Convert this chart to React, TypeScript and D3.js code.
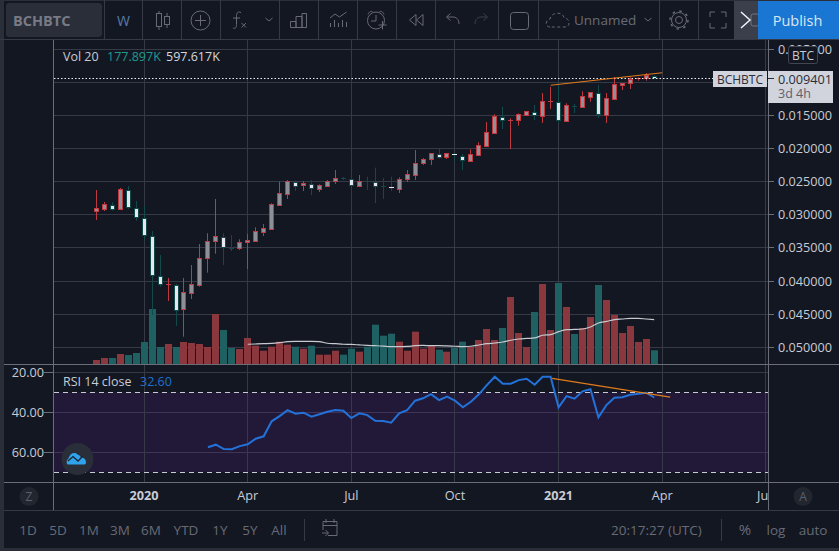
import React from "react";
import * as d3 from "d3";

// prices in thousandths of BTC, weekly bars, chart scale is inverted
const opens = [29.37,29.07,28.47,29.16,26.25,28.96,30.47,33.19,39.23,40.50,40.59,44.26,41.75,40.55,36.56,33.99,33.34,34.93,35.05,34.14,33.90,32.54,32.09,28.47,26.81,25.04,25.54,25.34,26.05,25.60,24.84,24.46,24.59,25.60,24.82,25.04,25.68,25.79,26.05,24.54,23.94,22.21,21.61,20.81,21.31,20.81,21.11,21.82,20.92,19.60,17.59,15.22,15.76,15.72,14.88,14.42,15.03,12.87,12.91,15.78,13.50,13.67,12.16,11.55,14.88,12.46,10.39,10.13,9.44,9.29,8.99];
const closes = [29.01,28.41,29.16,26.05,28.86,30.32,33.04,39.08,40.44,40.45,44.37,41.69,40.49,36.56,33.99,33.19,34.85,34.98,34.14,33.84,32.51,31.99,28.41,26.74,24.93,25.64,25.23,25.94,25.54,24.84,24.48,24.50,25.49,24.84,24.86,25.64,25.72,25.94,24.54,23.88,22.21,21.61,20.70,21.26,20.70,20.96,21.72,20.86,19.50,17.53,15.07,15.68,15.72,14.82,14.36,14.92,12.85,12.83,15.68,13.46,13.54,12.10,11.49,14.77,12.40,10.29,10.13,9.44,9.29,8.88,9.401];
const lows = [26.25,28.06,28.10,25.94,25.64,27.91,28.66,32.44,36.06,39.53,40.44,39.53,37.57,34.40,32.78,27.60,32.78,33.04,33.69,32.89,31.88,31.38,28.25,25.00,24.74,24.84,24.89,24.74,25.39,24.74,23.23,24.28,24.13,23.98,24.24,22.88,24.44,24.24,24.33,23.23,20.21,21.41,20.66,20.01,20.66,20.66,20.81,20.10,19.04,15.98,14.82,13.67,15.42,14.67,14.32,13.41,11.60,10.69,10.09,13.15,13.26,11.34,11.45,10.39,11.60,9.18,10.13,9.23,9.23,8.58,8.93];
const highs = [30.78,29.42,29.37,29.27,29.07,30.88,33.90,45.12,40.85,43.01,46.78,48.40,42.71,40.85,38.73,35.87,37.57,35.46,35.31,38.18,34.05,33.19,32.14,28.51,27.60,26.40,26.40,27.00,26.55,25.64,25.34,24.74,26.35,25.64,26.25,28.21,27.60,26.40,26.70,25.04,24.74,22.47,22.47,21.52,21.57,21.97,23.23,21.87,21.07,19.71,17.69,17.04,20.06,16.54,15.03,15.68,16.13,14.00,16.13,15.98,14.62,13.87,12.91,15.37,16.13,12.50,11.15,11.00,9.74,9.74,9.43];
// volume in thousands
const volumes = [52,78,78,130,117,143,286,715,221,260,221,286,273,260,221,650,442,208,195,338,238,173,225,290,251,225,199,238,121,121,173,121,199,160,225,511,368,394,290,173,420,199,238,186,160,212,290,221,312,455,312,468,871,403,221,676,1040,442,1053,741,390,468,611,1027,832,637,403,494,286,325,178];
const volMaStart = 19;
const volMa = [257,260,264,268,277,290,294,294,294,290,270,264,257,254,248,242,238,233,225,225,229,238,242,238,238,235,231,225,231,247,264,273,286,309,325,332,339,374,381,420,446,449,455,481,533,554,576,585,593,593,585,576];
const rsiStart = 14;
const rsi = [57.5,56.2,58.4,58.5,56.9,56,53.2,52,44.5,41.9,38.9,40.7,40.2,42.2,41,39.7,38.9,39.2,42.9,40.5,41.4,44.2,44.4,45.2,40.5,38.9,34.2,33,30.9,33.9,32.2,34.2,37.5,34.7,31,26.4,22.2,25.7,25.7,23.9,23.2,26.2,22.2,22.2,37.5,31.9,33.2,29.5,28.5,42.5,36.4,32.7,32.5,31.2,30.7,30.2,32.6];
const priceTicks = [5,10,15,20,25,30,35,40,45,50];
const rsiTicks = [20,40,60];
const rsiBands = [30,70];
const timeTicks = [
  { bar: 6, label: "2020", bold: true },
  { bar: 19, label: "Apr", bold: false },
  { bar: 32, label: "Jul", bold: false },
  { bar: 45, label: "Oct", bold: false },
  { bar: 58, label: "2021", bold: true },
  { bar: 71, label: "Apr", bold: false },
];
const priceTrend = [{ bar: 57, v: 10.43 }, { bar: 71, v: 8.54 }];
const rsiTrend = [{ bar: 57.2, v: 23 }, { bar: 72, v: 32.4 }];
const ranges = [["1D", 28], ["5D", 58], ["1M", 89], ["3M", 120], ["6M", 151], ["YTD", 186], ["1Y", 220], ["5Y", 250], ["All", 279]] as const;
const toolbarSeps = [104.5, 142.5, 181.5, 220.5, 279.5, 318.5, 357.5, 396.5, 435.5, 498.5, 538.5, 659.5, 698.5];

const BG = "#131722";
const GRID = "#363a47";
const AXIS = "#6b6e76";
const ICON = "#686b75";
const FONT = "'Open Sans', sans-serif";
const RED = "#bf3a40";
const TEAL = "#124a4c";

const x = d3.scaleLinear().domain([0, 84]).range([96.3, 765.8]);
const yP = d3.scaleLinear().domain([5, 50]).range([49.3, 347.3]);
const yV = d3.scaleLinear().domain([0, 1053]).range([364, 283]);
const yR = d3.scaleLinear().domain([20, 60]).range([372.3, 452.3]);
const crisp = (v: number) => Math.floor(v) + 0.5;
const label = (v: number) => (v / 1000).toFixed(6);

const maLine = d3.line<number>().x((_, i) => x(i + volMaStart)).y((d) => yV(d)).curve(d3.curveMonotoneX);
const rsiLine = d3.line<number>().x((_, i) => x(i + rsiStart)).y((d) => yR(d));

function Toolbar() {
  const s = { fill: "none", stroke: ICON, strokeWidth: 1 };
  return (
    <g>
      <rect x={6} y={3} width={96} height={34} rx={3} fill="#2a2e39" />
      <text x={13} y={25.5} fontSize={14.5} fontWeight={700} fill="#787b86" fontFamily={FONT}>BCHBTC</text>
      {toolbarSeps.map((v) => <line key={v} x1={v} x2={v} y1={0} y2={39} stroke={GRID} />)}
      <text x={123.5} y={25.5} fontSize={14} textAnchor="middle" fill="#5a7ba8" fontFamily={FONT}>W</text>
      <g {...s}>
        <rect x={156.5} y={13.5} width={5} height={13} /><path d="M159 11v2.5M159 26.5V30" />
        <rect x={164.5} y={16.5} width={5} height={8} /><path d="M167 13v3.5M167 24.5V28" />
        <circle cx={200.5} cy={20.5} r={9.5} /><path d="M200.5 15v11M195 20.5h11" />
        <path d="M241 12.5c-4-1.500-4.500 1-4.500 4v8c0 3-1 4.500-3.500 3.500M233 18h7" />
        <path d="M241.500 23l4.500 4.500M246 23l-4.500 4.500" />
        <path d="M265.500 18l3.500 3 3.500-3" />
        <path d="M290.500 21.500h5.500v6h-5.500zM296 16.500h6v11h-6zM302 13.500h4.500v14H302z" />
        <path d="M330 18l5-4 4.500 3 7-5M330.500 23v4M334.500 20v7M338.500 23v4M342.500 20v7M346.500 22v5" />
        <circle cx={376} cy={20.500} r={8.500} /><path d="M376 15v6h-5M368 14.500c1-3 3-3.500 4.500-3M384 14.500c-1-3-3-3.500-4.500-3M378.500 25h8M382.500 21v8.500" />
        <path d="M416 14.500l-6.500 5.500 6.500 5.500zM423 14.500l-6.500 5.500 6.500 5.500z" />
        <path d="M459 24c0-5-3-7-6-7h-6M450.500 13.500l-4 3.500 4 3.500" />
        <rect x={510.500} y={12.500} width={18} height={17} rx={3} />
        <path d="M550 27c-5 0-5-7 0-8 1-7 13-8 14-1 6 0 7 9 1 9z" strokeDasharray="3 2.500" />
        <path d="M644.500 18l3.500 3 3.500-3" />
        <circle cx={679} cy={20} r={3.500} /><circle cx={679} cy={20} r={7.500} />
        <circle cx={679} cy={20} r={9} strokeDasharray="2.500 4.570" strokeWidth={1.500} />
        <path d="M710 17v-5h5M726 17v-5h-5M710 23v5h5M726 23v5h-5" />
      </g>
      <path d="M488 24c0-5 3-7 6-7h6M496.500 13.500l4 3.500-4 3.500" transform="translate(-13 0)" fill="none" stroke="#3d404b" strokeWidth={1} />
      <text x={574} y={25} fontSize={13.500} fill={ICON} fontFamily={FONT}>Unnamed</text>
      <rect x={734} y={1} width={25} height={38} fill="#3b3f4b" />
      <rect x={751} y={14} width={8} height={12} rx={2} fill="none" stroke="#70747f" />
      <path d="M741 12l9 8-9 8" fill="none" stroke="#f0f3fa" strokeWidth={1.500} />
      <rect x={758} y={1} width={81} height={38} fill="#1976d2" />
      <text x={797.500} y={26} fontSize={14.500} textAnchor="middle" fill="#dbe6f3" fontFamily={FONT}>Publish</text>
    </g>
  );
}

function Footer() {
  return (
    <g fontFamily={FONT} fill={ICON} fontSize={13.500}>
      {ranges.map(([t, cx]) => <text key={t} x={cx} y={535} textAnchor="middle">{t}</text>)}
      <line x1={304.500} x2={304.500} y1={519} y2={541} stroke={GRID} />
      <path d="M323 530v-8.500h14v14h-9M326 519v4M334 519v4M323 525.500h14M322 533h6M325.500 530l3 3-3 3" fill="none" stroke={ICON} strokeWidth={1} />
      <text x={611} y={535}>20:17:27 (UTC)</text>
      <line x1={721.500} x2={721.500} y1={519} y2={541} stroke={GRID} />
      <text x={745} y={535} textAnchor="middle" fontSize={15}>%</text>
      <text x={776} y={535} textAnchor="middle">log</text>
      <text x={813} y={535} textAnchor="middle">auto</text>
    </g>
  );
}

export default function App() {
  const bars = d3.range(opens.length);
  const volColor = (i: number) => (closes[i] > opens[i] ? "#1f6162" : "#8a383d");
  return (
    <svg width={839} height={551} style={{ position: "fixed", left: 0, top: 0, display: "block" }}>
      <rect width={839} height={551} fill={BG} />
      <rect x={0} y={0} width={4} height={551} fill="#2a2e39" />
      <rect x={0} y={548} width={839} height={3} fill="#2a2e39" />
      <rect x={0} y={0} width={839} height={1} fill="#2a2e39" />
      <Toolbar />
      <line x1={0} x2={839} y1={39.500} y2={39.500} stroke={GRID} />

      {/* RSI band and gridlines */}
      <rect x={54} y={yR(30)} width={714} height={yR(70) - yR(30)} fill="#221939" />
      {priceTicks.map((t) => <line key={t} x1={54} x2={768} y1={crisp(yP(t))} y2={crisp(yP(t))} stroke={GRID} />)}
      {rsiTicks.map((t) => <line key={t} x1={54} x2={768} y1={crisp(yR(t))} y2={crisp(yR(t))} stroke={t === 20 ? GRID : "#3f3458"} />)}
      {[...timeTicks.map((t) => t.bar), 84].map((b) => (
        <line key={b} x1={crisp(x(b))} x2={crisp(x(b))} y1={40} y2={482} stroke={GRID} />
      ))}
      {rsiBands.map((t) => <line key={t} x1={54} x2={768} y1={crisp(yR(t))} y2={crisp(yR(t))} stroke="#c9cbd2" strokeDasharray="5 4" />)}

      {/* volume */}
      {bars.map((i) => (
        <rect key={i} x={Math.floor(x(i)) - 3} y={yV(volumes[i])} width={7} height={364 - yV(volumes[i])} fill={volColor(i)} />
      ))}
      <path d={maLine(volMa) ?? ""} fill="none" stroke="#c8cad0" strokeWidth={1.200} />

      {/* candles */}
      {bars.map((i) => {
        const up = closes[i] > opens[i];
        const cx = crisp(x(i));
        const top = Math.round(yP(Math.min(opens[i], closes[i])));
        const h = Math.max(1, Math.round(yP(Math.max(opens[i], closes[i]))) - top);
        return (
          <g key={i}>
            <line x1={cx} x2={cx} y1={yP(lows[i])} y2={yP(highs[i])} stroke={up ? TEAL : RED} />
            {h <= 1
              ? <rect x={cx - 2.500} y={top} width={5} height={1} fill={up ? (i === 37 || i === 45 ? "#e8ebf0" : TEAL) : RED} />
              : <rect x={cx - 2} y={top + 0.500} width={4} height={h} fill={up ? "#e4e8ee" : "#8f9097"} stroke={up ? TEAL : RED} />}
          </g>
        );
      })}

      {/* price line and trend lines */}
      <line x1={54} x2={768} y1={78.500} y2={78.500} stroke="#eceef2" strokeDasharray="1.500 2" />
      <line x1={x(priceTrend[0].bar)} x2={x(priceTrend[1].bar)} y1={yP(priceTrend[0].v)} y2={yP(priceTrend[1].v)} stroke="#e07b1c" strokeWidth={1.200} />
      <path d={rsiLine(rsi) ?? ""} fill="none" stroke="#2272d9" strokeWidth={2} />
      <line x1={x(rsiTrend[0].bar)} x2={x(rsiTrend[1].bar)} y1={yR(rsiTrend[0].v)} y2={yR(rsiTrend[1].v)} stroke="#e07b1c" strokeWidth={1.200} />

      {/* frame */}
      <line x1={4} x2={839} y1={364.500} y2={364.500} stroke={AXIS} />
      <line x1={4} x2={839} y1={482.500} y2={482.500} stroke={AXIS} />
      <line x1={53.500} x2={53.500} y1={40} y2={510} stroke={AXIS} />
      <line x1={768.500} x2={768.500} y1={40} y2={510} stroke={AXIS} />
      <line x1={4} x2={839} y1={510.500} y2={510.500} stroke={GRID} />

      {/* price axis */}
      <g fontFamily={FONT} fontSize={12.700} fill="#c9ccd4">
        {priceTicks.map((t) => (
          <g key={t}>
            <line x1={769} x2={774} y1={crisp(yP(t))} y2={crisp(yP(t))} stroke={AXIS} />
            <text x={778} y={yP(t) + 4.500}>{label(t)}</text>
          </g>
        ))}
      </g>
      <rect x={788.500} y={46.500} width={29} height={17} rx={2} fill={BG} stroke="#434651" />
      <text x={803} y={59.500} fontSize={12} textAnchor="middle" fill="#c9ccd4" fontFamily={FONT}>BTC</text>
      <rect x={713} y={71} width={54} height={16} fill="#d1d4dc" />
      <text x={740} y={83.500} fontSize={12} textAnchor="middle" fill="#2a2e39" fontFamily={FONT}>BCHBTC</text>
      <rect x={768} y={71} width={65} height={32} fill="#d1d4dc" />
      <line x1={768} x2={774} y1={78.500} y2={78.500} stroke="#2a2e39" />
      <text x={778} y={83.500} fontSize={12.700} fill="#2a2e39" fontFamily={FONT}>{label(closes[closes.length - 1])}</text>
      <text x={778} y={97.500} fontSize={12.500} fill="#5d606b" fontFamily={FONT}>3d 4h</text>

      {/* RSI axis */}
      <g fontFamily={FONT} fontSize={12.700} fill="#c9ccd4">
        {rsiTicks.map((t) => (
          <g key={t}>
            <line x1={44} x2={53} y1={crisp(yR(t))} y2={crisp(yR(t))} stroke={AXIS} />
            <text x={44} y={yR(t) + 4.500} textAnchor="end">{t.toFixed(2)}</text>
          </g>
        ))}
      </g>

      {/* time axis */}
      <g fontFamily={FONT} fontSize={12.700} fill="#c9ccd4" textAnchor="middle">
        {timeTicks.map((t) => (
          <text key={t.label + t.bar} x={x(t.bar)} y={500} fontWeight={t.bold ? 700 : 400}>{t.label}</text>
        ))}
        <text x={757} y={500} textAnchor="start">Ju</text>
      </g>
      <rect x={769} y={483} width={70} height={27} fill={BG} />
      <circle cx={29} cy={496.500} r={9.500} fill="#22262f" />
      <text x={29} y={501} fontSize={12} textAnchor="middle" fill="#5d606b" fontFamily={FONT}>Z</text>
      <circle cx={803} cy={496.500} r={9.500} fill="#22262f" />
      <text x={803} y={501} fontSize={12} textAnchor="middle" fill="#5d606b" fontFamily={FONT}>A</text>

      {/* legends */}
      <g fontFamily={FONT} fontSize={12.500}>
        <text x={63} y={61} fill="#c9ccd4">Vol 20</text>
        <text x={107} y={61} fill="#1f9b8e">177.897K</text>
        <text x={166} y={61} fill="#d6d8de">597.617K</text>
        <text x={63} y={386} fill="#c9ccd4">RSI 14 close</text>
        <text x={140} y={386} fill="#1f6fcf">32.60</text>
      </g>

      {/* logo */}
      <circle cx={77.500} cy={459} r={16} fill="#2a2e39" />
      <path d="M68 464.500c-2 0-1.500-5 .5-6 1-5 6-7 9-4 2 .5 3 2 3.500 3 3 0 5 2 5 5 0 1.500-1 2-2 2z" fill="#2fa3ec" />
      <path d="M68 461l5-4.500 5 4.500 5-5" fill="none" stroke="#1d2330" strokeWidth={1.300} />
      <Footer />
    </svg>
  );
}
